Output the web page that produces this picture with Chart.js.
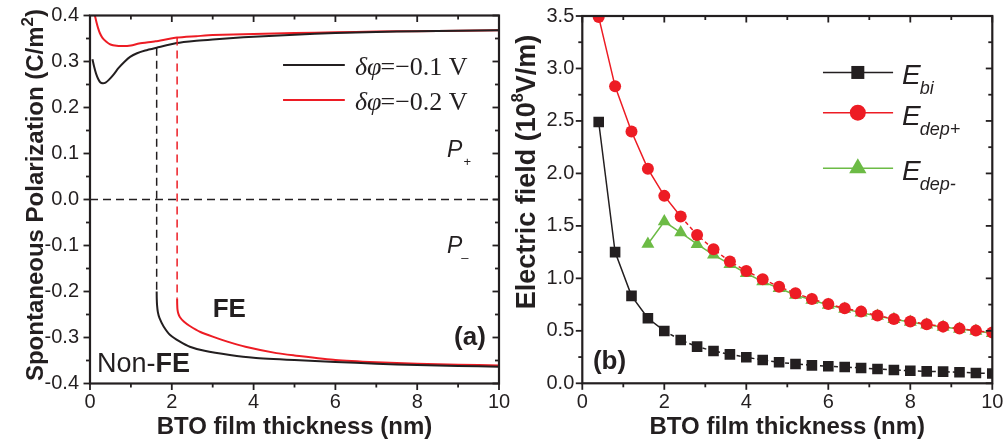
<!DOCTYPE html>
<html><head><meta charset="utf-8">
<script src="https://cdn.jsdelivr.net/npm/chart.js@4"></script>
<style>
html,body{margin:0;padding:0;background:#fff;}
#wrap{position:relative;width:1005px;height:448px;overflow:hidden;background:#fff;}
canvas{position:absolute;left:0;top:0;}
</style></head><body>
<div id="wrap">
<canvas id="cb" width="1005" height="448"></canvas>
<canvas id="ca" width="1005" height="448"></canvas>
</div>
<script>
// ===== Panel (a): spontaneous polarization vs thickness =====
const xTicksA = [0, 2, 4, 6, 8, 10];
const yTicksA = [-0.4, -0.3, -0.2, -0.1, 0.0, 0.1, 0.2, 0.3, 0.4];
// critical thicknesses (nm) for dphi = -0.1 V and -0.2 V
const criticalThickness = [1.63, 2.13];

// dphi = -0.1 V, P+ branch
const blackPosX = [0.06, 0.1, 0.15, 0.2, 0.25, 0.31, 0.38, 0.46, 0.57, 0.7, 0.85, 0.98, 1.15, 1.35, 1.63, 2.12, 2.6, 3.0, 3.5, 4.0, 5.0, 6.0, 7.0, 8.0, 9.0, 10.0];
const blackPosY = [0.305, 0.289, 0.273, 0.262, 0.255, 0.2526, 0.254, 0.260, 0.271, 0.286, 0.300, 0.310, 0.318, 0.324, 0.330, 0.340, 0.345, 0.348, 0.351, 0.354, 0.358, 0.362, 0.364, 0.366, 0.367, 0.368];
// dphi = -0.1 V, P- branch
const blackNegX = [1.63, 1.632, 1.64, 1.66, 1.7, 1.8, 1.96, 2.2, 2.44, 2.8, 3.42, 4.0, 5.0, 6.0, 7.0, 8.0, 9.0, 10.0];
const blackNegY = [-0.200, -0.215, -0.230, -0.245, -0.258, -0.276, -0.2946, -0.309, -0.320, -0.329, -0.338, -0.344, -0.349, -0.353, -0.357, -0.360, -0.362, -0.3635];
// dphi = -0.2 V, P+ branch
const redPosX = [0.1, 0.12, 0.16, 0.2, 0.24, 0.3, 0.4, 0.5, 0.65, 0.8, 1.0, 1.2, 1.6, 2.13, 2.6, 3.0, 4.0, 5.0, 6.0, 7.0, 8.0, 9.0, 10.0];
const redPosY = [0.410, 0.400, 0.385, 0.372, 0.362, 0.352, 0.343, 0.337, 0.334, 0.3335, 0.335, 0.339, 0.344, 0.352, 0.355, 0.3576, 0.360, 0.362, 0.3635, 0.365, 0.366, 0.367, 0.368];
// dphi = -0.2 V, P- branch
const redNegX = [2.13, 2.132, 2.14, 2.16, 2.2, 2.3, 2.44, 2.7, 3.0, 3.4, 3.8, 4.56, 5.0, 6.0, 7.0, 8.0, 9.0, 10.0];
const redNegY = [-0.215, -0.228, -0.240, -0.248, -0.256, -0.266, -0.275, -0.288, -0.298, -0.310, -0.320, -0.334, -0.339, -0.349, -0.354, -0.357, -0.359, -0.361];

// ===== Panel (b): electric fields vs thickness =====
const xTicksB = [0, 2, 4, 6, 8, 10];
const yTicksB = [0.0, 0.5, 1.0, 1.5, 2.0, 2.5, 3.0, 3.5];
const thicknessB = [0.4, 0.8, 1.2, 1.6, 2.0, 2.4, 2.8, 3.2, 3.6, 4.0, 4.4, 4.8, 5.2, 5.6, 6.0, 6.4, 6.8, 7.2, 7.6, 8.0, 8.4, 8.8, 9.2, 9.6, 10.0];
const eBi = [2.49, 1.25, 0.833, 0.62, 0.499, 0.413, 0.349, 0.308, 0.276, 0.248, 0.222, 0.200, 0.184, 0.171, 0.162, 0.155, 0.146, 0.136, 0.127, 0.120, 0.114, 0.111, 0.105, 0.098, 0.094];
const eDepPlus = [3.49, 2.83, 2.40, 2.044, 1.786, 1.589, 1.414, 1.278, 1.160, 1.071, 0.992, 0.921, 0.858, 0.804, 0.756, 0.715, 0.683, 0.645, 0.613, 0.588, 0.563, 0.540, 0.521, 0.502, 0.483];
const thicknessDepMinus = [1.6, 2.0, 2.4, 2.8, 3.2, 3.6, 4.0, 4.4, 4.8, 5.2, 5.6, 6.0, 6.4, 6.8, 7.2, 7.6, 8.0, 8.4, 8.8, 9.2, 9.6, 10.0];
const eDepMinus = [1.328, 1.541, 1.436, 1.326, 1.224, 1.135, 1.049, 0.969, 0.906, 0.842, 0.794, 0.747, 0.709, 0.673, 0.642, 0.610, 0.585, 0.559, 0.537, 0.518, 0.499, 0.477];

// ===== styling =====
const INK = '#231f20', RED = '#ed1c24', GREEN = '#6cbb45';
const SANS = '"Liberation Sans", Arial, sans-serif';
const SERIF = '"Liberation Serif", "Times New Roman", serif';
const pts = (xs, ys) => xs.map((x, i) => ({x, y: ys[i]}));

const frameTicks = {
  id: 'frameTicks',
  afterDraw(chart) {
    const {ctx, chartArea: a, scales: {x, y}} = chart;
    const xt = x.ticks.map(t => t.value), yt = y.ticks.map(t => t.value);
    const minors = arr => arr.slice(0, -1).map((v, i) => (v + arr[i + 1]) / 2);
    const seg = (x1, y1, x2, y2) => { ctx.beginPath(); ctx.moveTo(x1, y1); ctx.lineTo(x2, y2); ctx.stroke(); };
    ctx.save();
    ctx.strokeStyle = INK; ctx.lineWidth = 1.8; ctx.lineCap = 'butt';
    const M = 6.5, m = 4;
    xt.forEach(v => { const p = x.getPixelForValue(v); seg(p, a.bottom, p, a.bottom + M); seg(p, a.top, p, a.top + M); });
    minors(xt).forEach(v => { const p = x.getPixelForValue(v); seg(p, a.bottom, p, a.bottom + m); seg(p, a.top, p, a.top + m); });
    yt.forEach(v => { const p = y.getPixelForValue(v); seg(a.left - M, p, a.left, p); seg(a.right - M, p, a.right, p); });
    minors(yt).forEach(v => { const p = y.getPixelForValue(v); seg(a.left - m, p, a.left, p); seg(a.right - m, p, a.right, p); });
    ctx.lineWidth = 2.2;
    ctx.strokeRect(a.left, a.top, a.right - a.left, a.bottom - a.top);
    ctx.restore();
  }
};

// rotated y-axis title with real superscript
const yTitle = {
  id: 'yTitle',
  afterDraw(chart, args, o) {
    const {ctx} = chart;
    const size = o.size, supSize = Math.round(size * o.supScale);
    ctx.save();
    ctx.translate(o.cx, o.cy);
    ctx.rotate(-Math.PI / 2);
    ctx.fillStyle = INK;
    ctx.textBaseline = 'alphabetic';
    ctx.textAlign = 'left';
    const parts = o.parts;
    const fontOf = p => 'bold ' + (p.sup ? supSize : size) + 'px ' + SANS;
    let total = 0;
    parts.forEach(p => { ctx.font = fontOf(p); total += ctx.measureText(p.t).width; });
    let px = -total / 2;
    const base = 0.36 * size;
    parts.forEach(p => {
      ctx.font = fontOf(p);
      ctx.fillText(p.t, px, p.sup ? base - size * 0.42 : base);
      px += ctx.measureText(p.t).width;
    });
    ctx.restore();
  }
};

const annotA = {
  id: 'annotA',
  afterDraw(chart) {
    const {ctx, scales: {x, y}} = chart;
    const X = v => x.getPixelForValue(v), Y = v => y.getPixelForValue(v);
    ctx.save();
    ctx.fillStyle = INK;
    const rows = [[0.2924, INK, '\u22120.1 V'], [0.2163, RED, '\u22120.2 V']];
    rows.forEach(([yv, col, txt]) => {
      const py = Y(yv);
      ctx.strokeStyle = col; ctx.lineWidth = 1.8;
      ctx.beginPath(); ctx.moveTo(X(4.72), py); ctx.lineTo(X(6.23), py); ctx.stroke();
      let px = X(6.48);
      ctx.fillStyle = INK;
      ctx.textBaseline = 'alphabetic'; ctx.textAlign = 'left';
      ctx.font = 'italic 26px ' + SERIF;
      ctx.fillText('\u03b4\u03c6', px, py + 10);
      px += ctx.measureText('\u03b4\u03c6').width - 1;
      ctx.font = '26px ' + SERIF;
      ctx.fillText('=' + txt, px, py + 10);
    });
    ctx.fillStyle = INK;
    ctx.font = 'italic 23px ' + SANS;
    ctx.fillText('P', X(8.73), Y(0.0924));
    ctx.fillText('P', X(8.73), Y(-0.1163));
    ctx.font = '13px ' + SANS;
    ctx.fillText('+', X(9.13), Y(0.0924) + 9);
    ctx.fillText('\u2013', X(9.08), Y(-0.1163) + 9);
    ctx.font = 'bold 26px ' + SANS;
    ctx.fillText('FE', X(3.0), Y(-0.2559));
    ctx.font = '27px ' + SANS;
    ctx.fillText('Non-', X(0.17), Y(-0.3743));
    const w = ctx.measureText('Non-').width;
    ctx.font = 'bold 27px ' + SANS;
    ctx.fillText('FE', X(0.17) + w, Y(-0.3743));
    ctx.font = 'bold 26px ' + SANS;
    ctx.fillText('(a)', X(8.9), Y(-0.316));
    ctx.restore();
  }
};

const annotB = {
  id: 'annotB',
  afterDraw(chart) {
    const {ctx, scales: {x, y}} = chart;
    const X = v => x.getPixelForValue(v), Y = v => y.getPixelForValue(v);
    ctx.save();
    const rows = [
      [2.962, INK, 'square', 'bi'],
      [2.579, RED, 'circle', 'dep+'],
      [2.050, GREEN, 'triangle', 'dep-']
    ];
    rows.forEach(([yv, col, shape, sub]) => {
      const py = Y(yv), cx = X(6.72);
      ctx.strokeStyle = col; ctx.lineWidth = 1.5;
      ctx.beginPath(); ctx.moveTo(X(5.87), py); ctx.lineTo(X(7.58), py); ctx.stroke();
      ctx.fillStyle = col;
      ctx.beginPath();
      if (shape === 'square') ctx.rect(cx - 6.5, py - 6.5, 13, 13);
      else if (shape === 'circle') ctx.arc(cx, py, 8, 0, Math.PI * 2);
      else { const r = 10; ctx.moveTo(cx, py - r); ctx.lineTo(cx + r * 0.866, py + r / 2); ctx.lineTo(cx - r * 0.866, py + r / 2); ctx.closePath(); }
      ctx.fill();
      ctx.fillStyle = INK;
      ctx.textAlign = 'left'; ctx.textBaseline = 'alphabetic';
      ctx.font = 'italic 28px ' + SANS;
      const ex = X(7.8);
      ctx.fillText('E', ex, py + 12);
      const ew = ctx.measureText('E').width;
      ctx.font = 'italic 18px ' + SANS;
      ctx.fillText(sub, ex + ew - 1, py + 22);
    });
    ctx.fillStyle = INK;
    ctx.font = 'bold 26px ' + SANS;
    ctx.fillText('(b)', X(0.26), Y(0.132));
    ctx.restore();
  }
};

function noPad(s) { s.paddingLeft = 0; s.paddingRight = 0; s.paddingTop = 0; s.paddingBottom = 0; }
function axisCommon(ticksArr, fmt, pad) {
  return {
    type: 'linear',
    min: ticksArr[0], max: ticksArr[ticksArr.length - 1],
    afterBuildTicks: s => { s.ticks = ticksArr.map(v => ({value: v})); },
    grid: {display: false, drawTicks: false},
    border: {display: false},
    ticks: {padding: pad, color: INK, font: {family: SANS, size: 20}, callback: fmt}
  };
}
const titleFont = {family: SANS, size: 24, weight: 'bold'};

// ---------- chart (a) ----------
const xa = axisCommon(xTicksA, v => String(v), 7);
xa.afterFit = s => { s.height = 64.5; noPad(s); };
xa.title = {display: true, text: 'BTO film thickness (nm)', color: INK, font: titleFont, padding: {top: 0, bottom: 6}};
const ya = axisCommon(yTicksA, v => v.toFixed(1), 11);
ya.afterFit = s => { s.width = 90; noPad(s); };
ya.title = {display: false};

const lineDs = (data, color, extra) => Object.assign({data, borderColor: color, borderWidth: 2, pointRadius: 0, showLine: true, tension: 0.2, fill: false}, extra || {});

new Chart(document.getElementById('ca'), {
  type: 'scatter',
  data: {
    datasets: [
      lineDs([{x: 0, y: 0}, {x: 10, y: 0}], INK, {borderWidth: 1.5, borderDash: [8, 5], tension: 0}),
      lineDs([{x: criticalThickness[0], y: blackPosY[14]}, {x: criticalThickness[0], y: blackNegY[0]}], INK, {borderWidth: 1.5, borderDash: [8, 5], tension: 0}),
      lineDs([{x: criticalThickness[1], y: redPosY[13]}, {x: criticalThickness[1], y: redNegY[0]}], RED, {borderWidth: 1.5, borderDash: [8, 5], tension: 0}),
      lineDs(pts(blackPosX, blackPosY), INK),
      lineDs(pts(blackNegX, blackNegY), INK),
      lineDs(pts(redPosX, redPosY), RED),
      lineDs(pts(redNegX, redNegY), RED)
    ]
  },
  options: {
    responsive: false, animation: false, events: [],
    layout: {padding: {left: 0, right: 506, top: 15.5, bottom: 0}},
    plugins: {legend: {display: false}, tooltip: {enabled: false},
      yTitle: {cx: 34, cy: 195, size: 24, supScale: 0.72,
        parts: [{t: 'Spontaneous Polarization (C/m'}, {t: '2', sup: true}, {t: ')'}]}},
    scales: {x: xa, y: ya}
  },
  plugins: [frameTicks, annotA, yTitle]
});

// ---------- chart (b) ----------
const xb = axisCommon(xTicksB, v => String(v), 7);
xb.afterFit = s => { s.height = 64.7; noPad(s); };
xb.title = {display: true, text: 'BTO film thickness (nm)', color: INK, font: titleFont, padding: {top: 0, bottom: 6}};
const yb = axisCommon(yTicksB, v => v.toFixed(1), 8);
yb.afterFit = s => { s.width = 82.3; noPad(s); };
yb.title = {display: false};

new Chart(document.getElementById('cb'), {
  type: 'scatter',
  data: {
    datasets: [
      {label: 'E_bi', data: pts(thicknessB, eBi), showLine: true, borderColor: INK, borderWidth: 1.5,
       pointStyle: 'rect', pointRadius: 7.5, pointBackgroundColor: INK, pointBorderWidth: 0,
       segment: {borderDash: c => c.p0.parsed.x >= 1.95 ? [4, 3] : undefined}},
      {label: 'E_dep+', data: pts(thicknessB, eDepPlus), showLine: true, borderColor: RED, borderWidth: 1.5,
       pointStyle: 'circle', pointRadius: 6, pointBackgroundColor: RED, pointBorderWidth: 0,
       segment: {borderDash: c => c.p0.parsed.x >= 2.35 ? [4, 3] : undefined}},
      {label: 'E_dep-', data: pts(thicknessDepMinus, eDepMinus), showLine: true, borderColor: GREEN, borderWidth: 1.5,
       pointStyle: 'triangle', pointRadius: 7.5, pointBackgroundColor: GREEN, pointBorderWidth: 0}
    ]
  },
  options: {
    responsive: false, animation: false, events: [],
    layout: {padding: {left: 500, right: 12.7, top: 16, bottom: 0}},
    plugins: {legend: {display: false}, tooltip: {enabled: false},
      yTitle: {cx: 525, cy: 172, size: 27, supScale: 0.6,
        parts: [{t: 'Electric field (10'}, {t: '8', sup: true}, {t: 'V/m)'}]}},
    scales: {x: xb, y: yb}
  },
  plugins: [frameTicks, annotB, yTitle]
});
</script>
</body></html>
